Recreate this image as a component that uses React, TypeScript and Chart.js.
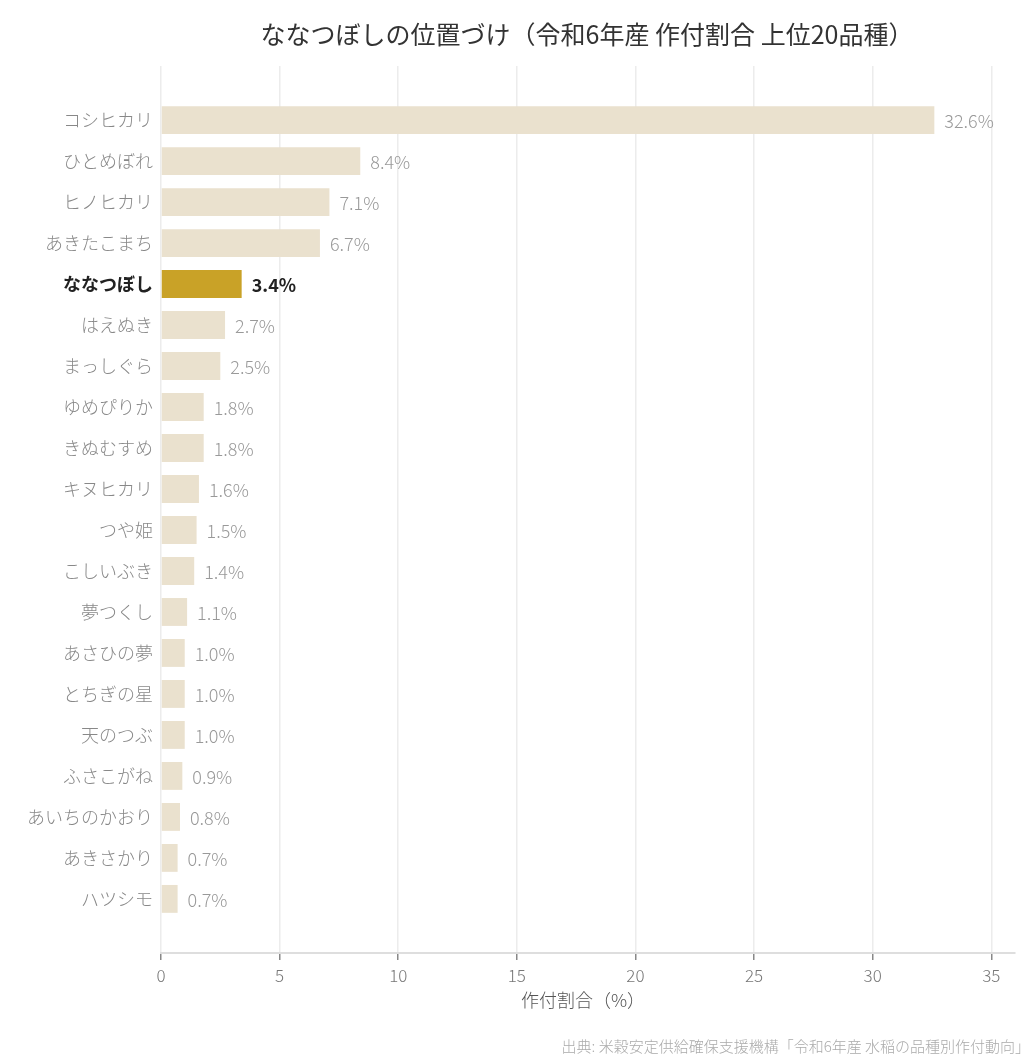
import { useEffect, useRef } from 'react';
import { Chart, registerables } from 'chart.js';

Chart.register(...registerables);

const categories = [
  'コシヒカリ', 'ひとめぼれ', 'ヒノヒカリ', 'あきたこまち', 'ななつぼし',
  'はえぬき', 'まっしぐら', 'ゆめぴりか', 'きぬむすめ', 'キヌヒカリ',
  'つや姫', 'こしいぶき', '夢つくし', 'あさひの夢', 'とちぎの星',
  '天のつぶ', 'ふさこがね', 'あいちのかおり', 'あきさかり', 'ハツシモ',
];
const shares = [32.6, 8.4, 7.1, 6.7, 3.4, 2.7, 2.5, 1.8, 1.8, 1.6, 1.5, 1.4, 1.1, 1.0, 1.0, 1.0, 0.9, 0.8, 0.7, 0.7];
const highlight = 'ななつぼし';
const xTicks = [0, 5, 10, 15, 20, 25, 30, 35];

const titleText = 'ななつぼしの位置づけ（令和6年産 作付割合 上位20品種）';
const xTitle = '作付割合（%）';
const sourceText = '出典: 米穀安定供給確保支援機構「令和6年産 水稲の品種別作付動向」';

const FONT = '"Noto Sans CJK JP", "Noto Sans", sans-serif';
const BAR = '#EAE1CE';
const BAR_HI = '#C9A227';

export default function App() {
  const canvasRef = useRef<HTMLCanvasElement>(null);

  useEffect(() => {
    document.body.style.margin = '0';
    if (!canvasRef.current) return;

    const extras = {
      id: 'extras',
      afterDatasetsDraw(chart: any) {
        const { ctx } = chart;
        const meta = chart.getDatasetMeta(0);
        ctx.save();
        ctx.textBaseline = 'middle';
        ctx.textAlign = 'left';
        meta.data.forEach((bar: any, i: number) => {
          const hi = categories[i] === highlight;
          ctx.font = `${hi ? 700 : 300} 18px ${FONT}`;
          ctx.fillStyle = hi ? '#222' : '#999';
          ctx.fillText(`${shares[i].toFixed(1)}%`, bar.x + 10, bar.y + 1);
        });
        ctx.restore();
      },
      afterDraw(chart: any) {
        const { ctx, chartArea, width, height } = chart;
        const cx = (chartArea.left + chartArea.right) / 2 - 5;
        ctx.save();
        ctx.textBaseline = 'middle';
        ctx.textAlign = 'center';
        ctx.font = `400 25px ${FONT}`;
        ctx.fillStyle = '#333';
        ctx.fillText(titleText, cx + 4, 34);
        ctx.font = `300 18px ${FONT}`;
        ctx.fillStyle = '#555';
        ctx.fillText(xTitle, cx, 1000);
        ctx.textAlign = 'right';
        ctx.font = `300 15px ${FONT}`;
        ctx.fillStyle = '#aaa';
        ctx.fillText(sourceText, width - 6, height - 18);
        ctx.restore();
      },
    };

    const chart = new Chart(canvasRef.current, {
      type: 'bar',
      data: {
        datasets: [
          {
            data: categories.map((c, i) => ({ x: shares[i], y: i })),
            backgroundColor: categories.map((c) => (c === highlight ? BAR_HI : BAR)),
            borderWidth: 0,
            categoryPercentage: 1,
            barPercentage: 0.68,
          },
        ],
      },
      options: {
        indexAxis: 'y',
        animation: false,
        responsive: true,
        maintainAspectRatio: false,
        layout: { padding: { top: 66, right: 21, left: 0, bottom: 0 } },
        plugins: {
          legend: { display: false },
          tooltip: { enabled: false },
          title: { display: false },
        },
        scales: {
          x: {
            type: 'linear',
            bounds: 'data',
            min: 0,
            max: 36,
            afterBuildTicks: (scale: any) => {
              scale.ticks = xTicks.map((v) => ({ value: v }));
            },
            afterFit: (scale: any) => {
              scale.height = 111;
            },
            grid: {
              color: '#ececec',
              lineWidth: 1.5,
              drawTicks: true,
              tickLength: 7,
              tickColor: '#888',
              tickWidth: 1.5,
            },
            border: { display: true, color: '#dedede', width: 2 },
            ticks: {
              color: '#777',
              padding: 5,
              font: { family: FONT, size: 17, weight: 300 },
              maxRotation: 0,
            },
          },
          y: {
            type: 'linear',
            bounds: 'data',
            offset: false,
            reverse: true,
            min: -1.32,
            max: 20.32,
            afterBuildTicks: (scale: any) => {
              scale.ticks = categories.map((c, i) => ({ value: i }));
            },
            afterFit: (scale: any) => {
              scale.width = 161;
            },
            grid: { display: false, drawTicks: false },
            border: { display: false },
            ticks: {
              padding: 8,
              callback: (v: any) => categories[v as number] ?? '',
              color: (ctx: any) => (categories[ctx.tick?.value] === highlight ? '#222' : '#888'),
              font: (ctx: any) => ({
                family: FONT,
                size: 18,
                weight: categories[ctx.tick?.value] === highlight ? 700 : 300,
              }),
            },
          },
        },
      },
      plugins: [extras],
    });

    return () => {
      chart.destroy();
    };
  }, []);

  return (
    <div style={{ width: 1036, height: 1064, position: 'relative' }}>
      <canvas ref={canvasRef} style={{ display: 'block' }} />
    </div>
  );
}
